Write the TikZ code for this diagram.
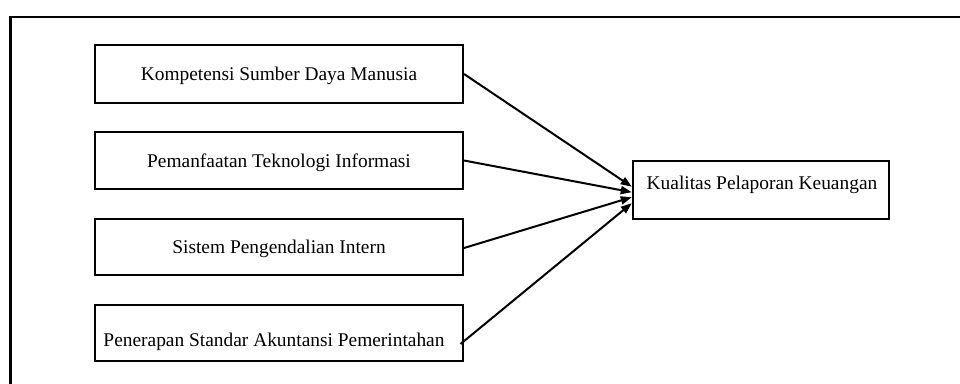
\documentclass[tikz,border=0pt]{standalone}
\usepackage{fontspec}
\setmainfont{Liberation Serif}
\usetikzlibrary{arrows.meta}
\begin{document}
\begin{tikzpicture}[x=1pt,y=-1pt,
  varbox/.style={draw, line width=2pt, rectangle, inner sep=0pt, text depth=0pt,
    font=\fontsize{19.4}{23}\selectfont},
  label/.style={inner sep=0pt, text depth=0pt, font=\fontsize{19.4}{23}\selectfont},
  link/.style={line width=2pt, -{Triangle[length=11pt,width=8pt]}},
  frameline/.style={line width=2.2pt}]
\useasboundingbox (0,0) rectangle (960,383);
% outer frame (left and top edges only visible)
\coordinate (fbl) at (10.5,390);
\coordinate (ftl) at (10.5,16.7);
\coordinate (ftr) at (966,16.7);
\draw[frameline] (fbl) -- (ftl) -- (ftr);
% independent variables
\node[varbox, minimum width=368pt, minimum height=58pt] (b1) at (279,74) {Kompetensi Sumber Daya Manusia};
\node[varbox, minimum width=368pt, minimum height=57.5pt] (b2) at (279,160.5) {Pemanfaatan Teknologi Informasi};
\node[varbox, minimum width=368pt, minimum height=56pt] (b3) at (279,247) {Sistem Pengendalian Intern};
\node[varbox, minimum width=368pt, minimum height=56.5pt] (b4) at (279,333) {};
\node[label] (b4t) at (274,340) {Penerapan Standar Akuntansi Pemerintahan};
% dependent variable
\node[varbox, minimum width=256.5pt, minimum height=58pt] (t) at (761,189.7) {};
\node[label] (tt) at (762,183) {Kualitas Pelaporan Keuangan};
% connectors
\draw[link] (b1.east) -- ([yshift=3pt]t.west);
\draw[link] (b2.east) -- ([yshift=-2.5pt]t.west);
\draw[link] ([yshift=-1pt]b3.east) -- ([yshift=-7.5pt]t.west);
\draw[link] ([xshift=-3.5pt,yshift=-11pt]b4.east) -- ([yshift=-13.5pt]t.west);
\end{tikzpicture}
\end{document}
